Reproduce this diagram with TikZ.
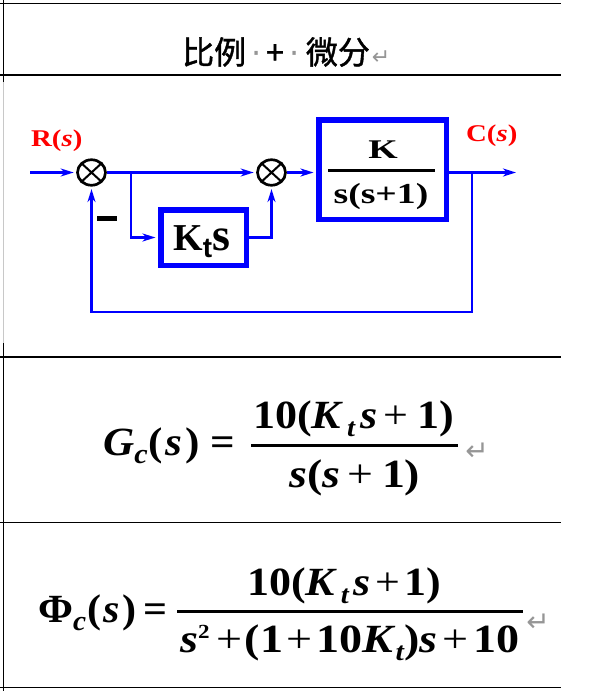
\documentclass[tikz,border=0pt]{standalone}
\usepackage{fontspec}
\usepackage{graphicx}
\setmainfont{Liberation Serif}
\newfontfamily\cjkfont[FakeBold=1.2]{Noto Sans CJK SC}
\newfontfamily\symfont{DejaVu Sans}
\newfontfamily\lsansfont{Liberation Sans}
\usetikzlibrary{arrows.meta,shapes.geometric}
\definecolor{sigblue}{RGB}{0,0,255}
\definecolor{lblred}{RGB}{255,0,0}
\definecolor{markgray}{RGB}{150,150,150}
\definecolor{rulegray}{RGB}{200,200,200}
\newcommand\Bv[1]{\textbf{\textit{#1}}}
\newcommand\Sb[2][26]{\raisebox{-8pt}{\fontsize{#1}{#1}\selectfont\textbf{\textit{#2}}}}
\begin{document}
\begin{tikzpicture}[x=1pt,y=-1pt,
  tline/.style={draw=black,line width=1.2pt},
  gline/.style={draw=rulegray,line width=1pt},
  sig/.style={draw=sigblue,line width=2.2pt},
  arr/.style={sig,-{Stealth[length=13pt,width=8pt,inset=4pt]},shorten >=2.5pt},
  sumnode/.style={ellipse,draw=black,line width=2.7pt,minimum width=28pt,minimum height=25.5pt,inner sep=0pt},
  blk/.style={draw=sigblue,line width=5.5pt,inner sep=0pt},
  lbl/.style={text=lblred,inner sep=0pt,anchor=base west},
  eq/.style={inner sep=0pt,anchor=base west,font=\fontsize{40}{42}\selectfont},
  bar/.style={draw=black,line width=3pt},
  ret/.style={inner sep=0pt,text=markgray,font=\symfont\fontsize{28}{28}\selectfont},
]
\useasboundingbox (0,0) rectangle (592,691);
\fill[white] (0,0) rectangle (592,691);
% table rules
\draw[tline] (0,3.5) -- (561,3.5);
\draw[tline] (0,75) -- (561,75);
\draw[tline] (0,357) -- (561,357);
\draw[tline] (0,522.5) -- (561,522.5);
\draw[tline] (0,687.5) -- (561,687.5);
\draw[tline] (3.5,0) -- (3.5,82);
\draw[gline] (3.5,82) -- (3.5,343);
\draw[tline] (3.5,343) -- (3.5,691);
% title
\node[inner sep=0pt,anchor=west] (title) at (182,52) {\cjkfont\fontsize{32}{32}\selectfont 比例\makebox[20pt]{\textcolor{markgray}{\symfont ·}}+\makebox[22pt]{\textcolor{markgray}{\symfont ·}}微分\kern2pt{\symfont\fontsize{22}{22}\selectfont\textcolor{markgray}{↵}}};
% block diagram
\node[sumnode] (s1) at (91.5,172.5) {};
\node[sumnode] (s2) at (271.5,172.5) {};
\draw[line width=2pt,shorten <=1pt,shorten >=1pt] (s1.north east) -- (s1.south west) (s1.north west) -- (s1.south east);
\draw[line width=2pt,shorten <=1pt,shorten >=1pt] (s2.north east) -- (s2.south west) (s2.north west) -- (s2.south east);
\node[blk,minimum width=85.5pt,minimum height=55.5pt] (kts) at (203.5,237.5) {};
\node[inner sep=0pt,anchor=base west] (ktstxt) at (173,250) {\fontsize{38}{38}\selectfont\textbf{K}\raisebox{-7pt}{\lsansfont\fontsize{28}{28}\selectfont\textbf{t}}\fontsize{46}{46}\selectfont\textbf{s}};
\node[blk,minimum width=127.5pt,minimum height=99.5pt] (G) at (382.5,169.5) {};
\node[inner sep=0pt,anchor=base] (gnum) at (383,158) {\scalebox{1.4}[1]{\fontsize{27}{27}\selectfont\textbf{K}}};
\draw[line width=3pt] (328,170) -- (435,170);
\node[inner sep=0pt,anchor=base] (gden) at (381,203) {\scalebox{1.3}[1]{\fontsize{29}{29}\selectfont\textbf{s(s+1)}}};
\node[lbl] (R) at (31,146) {\scalebox{1.2}[1]{\fontsize{24}{24}\selectfont\textbf{R(\textit{s})}}};
\node[lbl] (C) at (466,141) {\scalebox{1.2}[1]{\fontsize{24}{24}\selectfont\textbf{C(\textit{s})}}};
\node[fill=black,inner sep=0pt,minimum width=20pt,minimum height=5pt] (minus) at (107,218.5) {};
\coordinate (in) at (30,172.5);
\coordinate (b1) at (131,172.5);
\coordinate (j) at (472,172.5);
\coordinate (out) at (516,172.5);
\coordinate (fb) at (472,312);
\draw[arr] (in) -- (s1.west);
\draw[arr] (s1.east) -- (s2.west);
\draw[arr] (b1) |- (kts.west);
\draw[arr] (kts.east) -| (s2.south);
\draw[arr] (s2.east) -- (s2.east -| G.west);
\draw[arr,shorten >=0pt] (G.east |- s2.east) -- (out);
\draw[arr] (j) -- (fb) -| (s1.south);
% equation 1
\node[eq] (e1l) at (103,455) {\resizebox{132pt}{\height}{\Bv{G}\Sb[28]{c}\kern1pt\textbf{(}\kern2pt\Bv{s}\kern3pt\textbf{)}\kern10pt\textbf{=}}};
\node[eq] (e1n) at (253,428) {\resizebox{201pt}{\height}{\textbf{10(}\Bv{K}\kern3pt\Sb{t}\kern4pt\Bv{s}\kern6pt+\kern8pt\textbf{1)}}};
\draw[bar] (251,445) -- (458,445);
\node[eq] (e1d) at (289,487) {\resizebox{131pt}{\height}{\Bv{s}\textbf{(}\Bv{s}\kern6pt+\kern8pt\textbf{1)}}};
\node[ret] (r1) at (477,452) {↵};
% equation 2
\node[eq] (e2l) at (38,622) {\resizebox{129pt}{\height}{\textbf{Φ}\Sb[28]{c}\kern1pt\textbf{(}\kern2pt\Bv{s}\kern3pt\textbf{)}\kern6pt\textbf{=}}};
\node[eq] (e2n) at (247,595) {\resizebox{194pt}{\height}{\textbf{10(}\Bv{K}\kern3pt\Sb{t}\kern4pt\Bv{s}\kern4pt+\kern4pt\textbf{1)}}};
\draw[bar] (177,611.5) -- (523,611.5);
\node[eq] (e2d) at (180,652) {\resizebox{339pt}{\height}{\Bv{s}\raisebox{14pt}{\fontsize{20}{20}\selectfont\textbf{2}}\kern6pt+\kern2pt\textbf{(1}\kern3pt+\kern3pt\textbf{10}\Bv{K}\Sb{t}\textbf{)}\Bv{s}\kern4pt+\kern4pt\textbf{10}}};
\node[ret] (r2) at (538,623) {↵};
\end{tikzpicture}
\end{document}
